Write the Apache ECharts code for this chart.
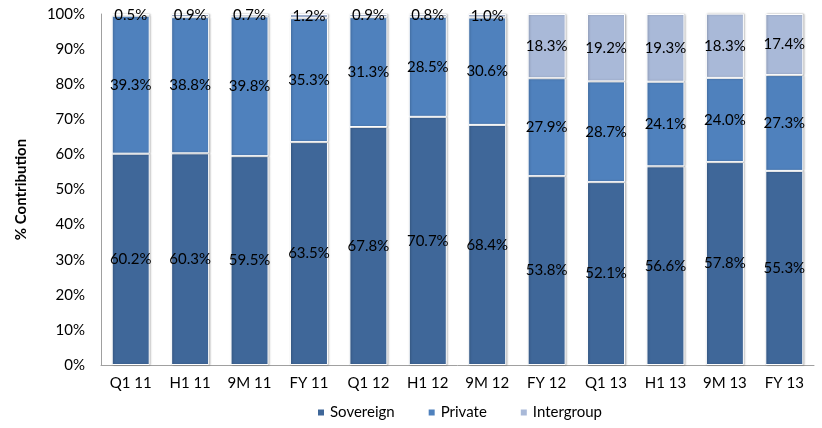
<!DOCTYPE html>
<html>
<head>
<meta charset="utf-8">
<script src="https://cdn.jsdelivr.net/npm/echarts@6/dist/echarts.min.js"></script>
<style>html,body{margin:0;padding:0;background:#fff}#c{width:822px;height:428px}</style>
</head>
<body>
<div id="c"></div>
<script>
var categories = ['Q1 11','H1 11','9M 11','FY 11','Q1 12','H1 12','9M 12','FY 12','Q1 13','H1 13','9M 13','FY 13'];
var sovereign = [60.2,60.3,59.5,63.5,67.8,70.7,68.4,53.8,52.1,56.6,57.8,55.3];
var privateV = [39.3,38.8,39.8,35.3,31.3,28.5,30.6,27.9,28.7,24.1,24.0,27.3];
var intergroup = [0.5,0.9,0.7,1.2,0.9,0.8,1.0,18.3,19.2,19.3,18.3,17.4];
var yTicks = [0,10,20,30,40,50,60,70,80,90,100];

var FONT = 'Lato, "Open Sans", sans-serif';
var chart = echarts.init(document.getElementById('c'));
function mk(name, data, color) {
  return {
    name: name, type: 'bar', stack: 'total', data: data, barWidth: 38,
    itemStyle: { color: color, borderColor: '#ffffff', borderWidth: 1,
      shadowColor: 'rgba(0,0,0,0.25)', shadowBlur: 2, shadowOffsetX: 1, shadowOffsetY: 0 },
    label: { show: true, position: 'inside', color: '#000', fontFamily: FONT, fontSize: 15,
      formatter: function (p) { return p.value.toFixed(1) + '%'; } }
  };
}
chart.setOption({
  animation: false,
  grid: { left: 101, right: 8, top: 14, bottom: 63 },
  legend: {
    bottom: 3, left: 311, itemWidth: 8, itemHeight: 8, icon: 'rect', itemGap: 32,
    textStyle: { fontFamily: FONT, fontSize: 15, color: '#000' },
    data: ['Sovereign', 'Private', 'Intergroup']
  },
  xAxis: {
    type: 'category', data: categories,
    axisLine: { lineStyle: { color: '#a0a0a0' } },
    axisTick: { show: false },
    axisLabel: { fontFamily: FONT, fontSize: 15, color: '#000', margin: 11 }
  },
  yAxis: {
    type: 'value', min: 0, max: 100, interval: 10,
    name: '% Contribution', nameLocation: 'middle', nameGap: 72,
    nameTextStyle: { fontFamily: FONT, fontSize: 15, fontWeight: 'bold', color: '#000' },
    axisLine: { show: true, lineStyle: { color: '#a0a0a0' } },
    axisTick: { show: false },
    splitLine: { show: false },
    axisLabel: { fontFamily: FONT, fontSize: 15, color: '#000', margin: 16,
      formatter: function (v) { return yTicks.indexOf(v) >= 0 ? v + '%' : ''; } }
  },
  series: [
    mk('Sovereign', sovereign, '#3f6799'),
    mk('Private', privateV, '#4f81bd'),
    mk('Intergroup', intergroup, '#a9b9d8')
  ]
});
</script>
</body>
</html>
